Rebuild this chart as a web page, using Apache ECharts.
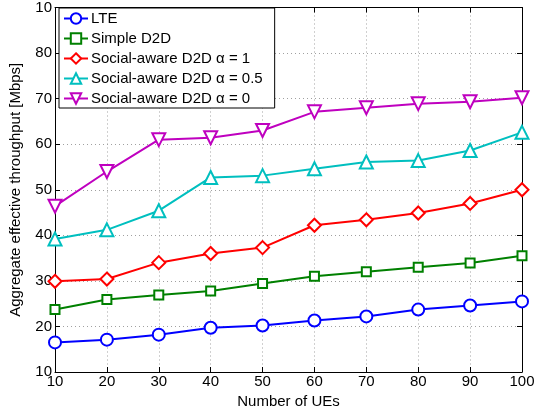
<!DOCTYPE html>
<html><head><meta charset="utf-8">
<script src="https://cdn.jsdelivr.net/npm/echarts@6/dist/echarts.min.js"></script>
<style>html,body{margin:0;padding:0;background:#fff}#c{width:548px;height:415px}</style>
</head><body><div id="c"></div>
<script>
const xValues = [10,20,30,40,50,60,70,80,90,100];
const yTickLabels = ['10','20','30','40','50','60','70','80','10'];
const seriesNames = ['LTE','Simple D2D','Social-aware D2D \u03b1 = 1','Social-aware D2D \u03b1 = 0.5','Social-aware D2D \u03b1 = 0'];
const lte = [16.5,17.1,18.2,19.7,20.2,21.3,22.2,23.7,24.6,25.5];
const simpleD2D = [23.7,25.9,26.9,27.8,29.4,31.0,32.0,33.0,33.9,35.5];
const socialA1 = [29.9,30.4,34.0,36.0,37.3,42.2,43.4,44.9,47.0,50.0];
const socialA05 = [39.2,41.2,45.4,52.7,53.1,54.6,56.1,56.4,58.6,62.6];
const socialA0 = [46.4,54.0,61.0,61.4,63.0,67.1,68.0,68.9,69.3,70.2];

const colors = ['#0000ff','#008000','#ff0000','#00bfbf','#bf00bf'];
const symbols = ['emptyCircle','emptyRect','emptyDiamond','emptyTriangle','emptyTriangle'];
const sizes = [12,9,13,13,13];
const rotates = [0,0,0,0,180];
const allData = [lte,simpleD2D,socialA1,socialA05,socialA0];
const font = 'Liberation Sans, Arial, Helvetica, sans-serif';

const chart = echarts.init(document.getElementById('c'));
const gridLine = {show:true, lineStyle:{color:'#a0a0a0', type:[1,3], width:1}};
chart.setOption({
  animation:false,
  backgroundColor:'#fff',
  grid:{left:54, right:26, top:4, bottom:43, show:false},
  legend:{
    orient:'vertical', left:59, top:8, itemWidth:24, itemHeight:13, itemGap:5,
    padding:[3,12,2,4], borderColor:'#000', borderWidth:1, backgroundColor:'#fff',
    textStyle:{fontFamily:font, fontSize:15, color:'#000', padding:[0,0,0,-2]},
    data: seriesNames
  },
  xAxis:[{
    type:'value', min:10, max:100, interval:10, position:'bottom',
    name:'Number of UEs', nameLocation:'middle', nameGap:20,
    nameTextStyle:{fontFamily:font, fontSize:15, color:'#000'},
    axisLine:{lineStyle:{color:'#000', width:1}},
    axisTick:{inside:true, length:5, lineStyle:{color:'#000'}},
    axisLabel:{fontFamily:font, fontSize:15, color:'#000', margin:2},
    splitLine:gridLine
  },{
    type:'value', min:10, max:100, interval:10, position:'top',
    axisLine:{show:true, lineStyle:{color:'#000'}},
    axisTick:{inside:true, length:5, lineStyle:{color:'#000'}},
    axisLabel:{show:false}, splitLine:{show:false}
  }],
  yAxis:[{
    type:'value', min:10, max:90, interval:10, position:'left',
    name:'Aggregate effective throughput [Mbps]', nameLocation:'middle', nameGap:32,
    nameTextStyle:{fontFamily:font, fontSize:15, color:'#000'},
    axisLine:{show:true, lineStyle:{color:'#000'}},
    axisTick:{show:true, inside:true, length:5, lineStyle:{color:'#000'}},
    axisLabel:{fontFamily:font, fontSize:15, color:'#000', margin:3,
      formatter:v=>yTickLabels[Math.round((v-10)/10)]},
    splitLine:gridLine
  },{
    type:'value', min:10, max:90, interval:10, position:'right',
    axisLine:{show:true, lineStyle:{color:'#000'}},
    axisTick:{show:true, inside:true, length:5, lineStyle:{color:'#000'}},
    axisLabel:{show:false}, splitLine:{show:false}
  }],
  series: allData.map((d,i)=>({
    name:seriesNames[i], type:'line',
    data:d.map((v,j)=>[xValues[j],v]),
    symbol:symbols[i], symbolSize:sizes[i], symbolRotate:rotates[i],
    showAllSymbol:true,
    lineStyle:{color:colors[i], width:2},
    itemStyle:{color:colors[i], borderColor:colors[i], borderWidth:2},
    z: 2+i
  }))
});
</script></body></html>
